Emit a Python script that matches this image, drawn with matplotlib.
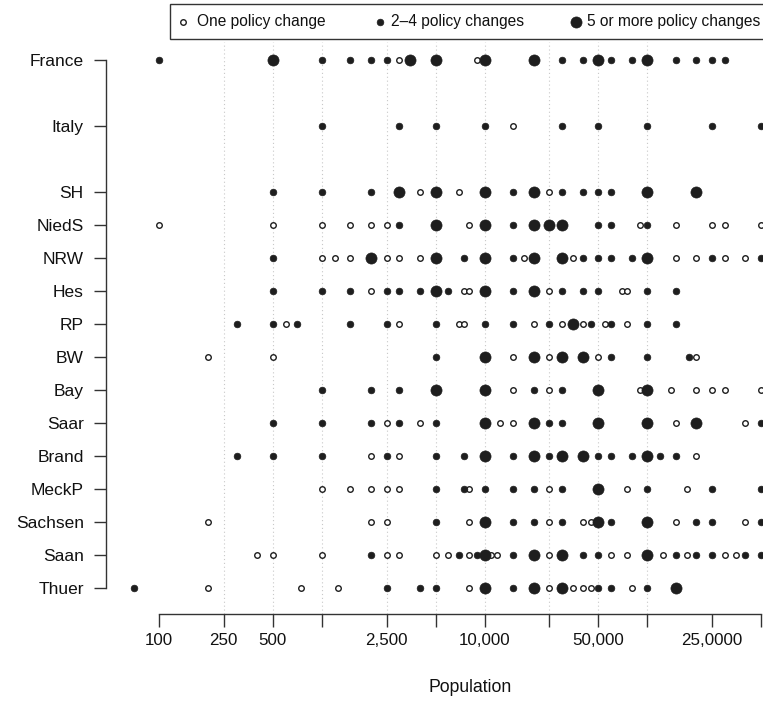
import matplotlib
matplotlib.use("Agg")
import matplotlib.pyplot as plt
from matplotlib.lines import Line2D
from matplotlib.patches import Rectangle

plt.rcParams['font.family'] = ['Liberation Sans', 'DejaVu Sans']
plt.rcParams['font.size'] = 10

# ---------------- data ----------------
regions = ["France", "Italy", "SH", "NiedS", "NRW", "Hes", "RP", "BW", "Bay",
           "Saar", "Brand", "MeckP", "Sachsen", "Saan", "Thuer"]
region_y = [17, 15, 13, 12, 11, 10, 9, 8, 7, 6, 5, 4, 3, 2, 1]

# category: 1 = one policy change, 2 = 2-4 changes, 3 = 5 or more
france_pop = [100, 500, 1000, 1500, 2000, 2500, 3000, 3500, 5000, 9000, 10000, 20000, 30000,
              40000, 50000, 60000, 80000, 100000, 150000, 200000, 250000, 300000]
france_cat = [2, 3, 2, 2, 2, 2, 1, 3, 3, 1, 3, 3, 2, 2, 3, 2, 2, 3, 2, 2, 2, 2]
italy_pop = [1000, 3000, 5000, 10000, 15000, 30000, 50000, 100000, 250000, 500000]
italy_cat = [2, 2, 2, 2, 1, 2, 2, 2, 2, 2]
sh_pop = [500, 1000, 2000, 3000, 4000, 5000, 7000, 10000, 15000, 20000, 25000, 30000, 40000,
          50000, 60000, 100000, 200000]
sh_cat = [2, 2, 2, 3, 1, 3, 1, 3, 2, 3, 1, 2, 2, 2, 2, 3, 3]
nieds_pop = [100, 500, 1000, 1500, 2000, 2500, 3000, 5000, 8000, 10000, 15000, 20000, 25000,
             30000, 50000, 60000, 90000, 100000, 150000, 250000, 300000, 500000]
nieds_cat = [1, 1, 1, 1, 1, 1, 2, 3, 1, 3, 2, 3, 3, 3, 2, 2, 1, 2, 1, 1, 1, 1]
nrw_pop = [500, 1000, 1200, 1500, 2000, 2500, 3000, 4000, 5000, 7500, 10000, 15000, 17500,
           20000, 30000, 35000, 40000, 50000, 60000, 80000, 100000, 150000, 200000, 250000,
           300000, 400000, 500000]
nrw_cat = [2, 1, 1, 1, 3, 1, 1, 1, 3, 2, 3, 2, 1, 3, 3, 1, 2, 2, 2, 2, 3, 1, 1, 2, 1, 1, 2]
hes_pop = [500, 1000, 1500, 2000, 2500, 3000, 4000, 5000, 6000, 7500, 8000, 10000, 15000,
           20000, 25000, 30000, 40000, 50000, 70000, 75000, 100000, 150000]
hes_cat = [2, 2, 2, 1, 2, 2, 2, 3, 2, 1, 1, 3, 2, 3, 1, 2, 2, 2, 1, 1, 2, 2]
rp_pop = [300, 500, 600, 700, 1500, 2500, 3000, 5000, 7000, 7500, 10000, 15000, 20000, 25000,
          30000, 35000, 40000, 45000, 55000, 60000, 75000, 100000, 150000]
rp_cat = [2, 2, 1, 2, 2, 2, 1, 2, 1, 1, 2, 2, 1, 2, 1, 3, 1, 2, 1, 2, 1, 2, 2]
bw_pop = [200, 500, 5000, 10000, 15000, 20000, 25000, 30000, 40000, 50000, 60000, 100000,
          180000, 200000]
bw_cat = [1, 1, 2, 3, 1, 3, 1, 3, 3, 1, 2, 2, 2, 1]
bay_pop = [1000, 2000, 3000, 5000, 10000, 15000, 20000, 25000, 30000, 50000, 90000, 100000,
           140000, 200000, 250000, 300000, 500000]
bay_cat = [2, 2, 2, 3, 3, 1, 2, 1, 2, 3, 1, 3, 1, 1, 1, 1, 1]
saar_pop = [500, 1000, 2000, 2500, 3000, 4000, 5000, 10000, 12500, 15000, 20000, 25000, 30000,
            50000, 100000, 150000, 200000, 400000, 500000]
saar_cat = [2, 2, 2, 1, 2, 1, 2, 3, 1, 1, 3, 2, 2, 3, 3, 1, 3, 1, 2]
brand_pop = [300, 500, 1000, 2000, 2500, 3000, 5000, 7500, 10000, 15000, 20000, 25000, 30000,
             40000, 50000, 60000, 80000, 100000, 120000, 150000, 200000]
brand_cat = [2, 2, 2, 1, 2, 1, 2, 2, 3, 2, 3, 2, 3, 3, 2, 2, 2, 3, 2, 2, 1]
meckp_pop = [1000, 1500, 2000, 2500, 3000, 5000, 7500, 8000, 10000, 15000, 20000, 25000, 30000,
             50000, 75000, 100000, 175000, 250000, 500000]
meckp_cat = [1, 1, 1, 1, 1, 2, 2, 1, 2, 2, 2, 1, 2, 3, 1, 2, 1, 2, 2]
sachsen_pop = [200, 2000, 2500, 5000, 8000, 10000, 15000, 20000, 25000, 30000, 40000, 45000,
               50000, 60000, 100000, 150000, 200000, 250000, 400000, 500000, 530000]
sachsen_cat = [1, 1, 1, 2, 1, 3, 2, 2, 1, 2, 1, 1, 3, 2, 3, 1, 2, 2, 1, 2, 2]
saan_pop = [400, 500, 1000, 2000, 2500, 3000, 5000, 6000, 7000, 8000, 9000, 10000, 11000, 12000,
            15000, 20000, 25000, 30000, 40000, 50000, 60000, 75000, 100000, 125000, 150000,
            175000, 200000, 250000, 300000, 350000, 400000, 500000]
saan_cat = [1, 1, 1, 2, 1, 1, 1, 1, 2, 1, 2, 3, 1, 1, 2, 3, 1, 3, 2, 2, 1, 1, 3, 1, 2, 1, 2, 2,
            1, 1, 2, 2]
thuer_pop = [70, 200, 750, 1250, 2500, 4000, 5000, 8000, 10000, 15000, 20000, 25000, 30000,
             35000, 40000, 45000, 50000, 60000, 80000, 100000, 150000]
thuer_cat = [2, 1, 1, 1, 2, 2, 2, 1, 3, 2, 3, 1, 3, 1, 1, 1, 2, 2, 1, 2, 3]

region_pops = [france_pop, italy_pop, sh_pop, nieds_pop, nrw_pop, hes_pop, rp_pop, bw_pop,
               bay_pop, saar_pop, brand_pop, meckp_pop, sachsen_pop, saan_pop, thuer_pop]
region_cats = [france_cat, italy_cat, sh_cat, nieds_cat, nrw_cat, hes_cat, rp_cat, bw_cat,
               bay_cat, saar_cat, brand_cat, meckp_cat, sachsen_cat, saan_cat, thuer_cat]

x_ticks = [100, 250, 500, 1000, 2500, 5000, 10000, 25000, 50000, 100000, 250000, 500000]
x_tick_labels = ["100", "250", "500", "", "2,500", "", "10,000", "", "50,000", "", "25,0000", ""]
grid_x = [250, 500, 1000, 2500, 5000, 10000, 25000, 50000, 100000]
legend_labels = ["One policy change", "2\u20134 policy changes", "5 or more policy changes"]

# ---------------- figure ----------------
W, H = 763, 705
fig = plt.figure(figsize=(W / 100, H / 100), dpi=100)

ax_l, ax_r, ax_t, ax_b = 106, 834, 42, 614
ax = fig.add_axes([ax_l / W, 1 - ax_b / H, (ax_r - ax_l) / W, (ax_b - ax_t) / H])
ax.set_xscale('log')
ax.set_xlim(47.3, 1.4e6)
ax.set_ylim(0.212, 17.545)

dark = '#1e1e1e'
for gx in grid_x:
    ax.axvline(gx, color='#c8c8c8', lw=0.8, ls=(0, (1, 2.5)), zorder=0)

style = {
    1: dict(marker='o', ms=4.0, mfc='white', mec=dark, mew=1.0),
    2: dict(marker='o', ms=4.8, mfc=dark, mec=dark, mew=0.5),
    3: dict(marker='o', ms=8.0, mfc=dark, mec=dark, mew=0.5),
}

for yv, pops, cats in zip(region_y, region_pops, region_cats):
    for c in (1, 2, 3):
        xs = [p for p, k in zip(pops, cats) if k == c]
        if xs:
            ax.plot(xs, [yv] * len(xs), ls='none', zorder=3, clip_on=True, **style[c])

ax.set_yticks(region_y)
ax.set_yticklabels(regions)
ax.set_xticks(x_ticks)
ax.set_xticklabels(x_tick_labels)
ax.xaxis.set_minor_locator(matplotlib.ticker.NullLocator())

for s in ('top', 'right'):
    ax.spines[s].set_visible(False)
ax.spines['left'].set_bounds(1, 17)
ax.spines['bottom'].set_bounds(100, 500000)
for s in ('left', 'bottom'):
    ax.spines[s].set_color('#333333')
    ax.spines[s].set_linewidth(1.0)

ax.tick_params(axis='both', length=9, width=1.0, color='#333333', labelcolor='#111111')
ax.tick_params(axis='y', pad=7, labelsize=12.5)
ax.tick_params(axis='x', pad=5, labelsize=12.2)
ax.set_xlabel("Population", fontsize=12.7, color='#111111', labelpad=22)

# ---------------- legend (drawn in figure pixel coordinates) ----------------
def fx(px):
    return px / W

def fy(py):
    return 1 - py / H

fig.add_artist(Rectangle((fx(170), fy(39)), fx(820) - fx(170), fy(4) - fy(39),
                         transform=fig.transFigure, facecolor='white', edgecolor='#333333',
                         lw=1.0, zorder=5))
leg_mx = [183, 380, 576]
leg_tx = [197, 391, 587]
for c, mx, tx, lab in zip((1, 2, 3), leg_mx, leg_tx, legend_labels):
    fig.add_artist(Line2D([fx(mx)], [fy(21.5)], transform=fig.transFigure, ls='none',
                          zorder=6, **style[c]))
    fig.text(fx(tx), fy(21.5), lab, ha='left', va='center', fontsize=11.2, color='#111111',
             zorder=6)

fig.savefig("out.png", dpi=100)
